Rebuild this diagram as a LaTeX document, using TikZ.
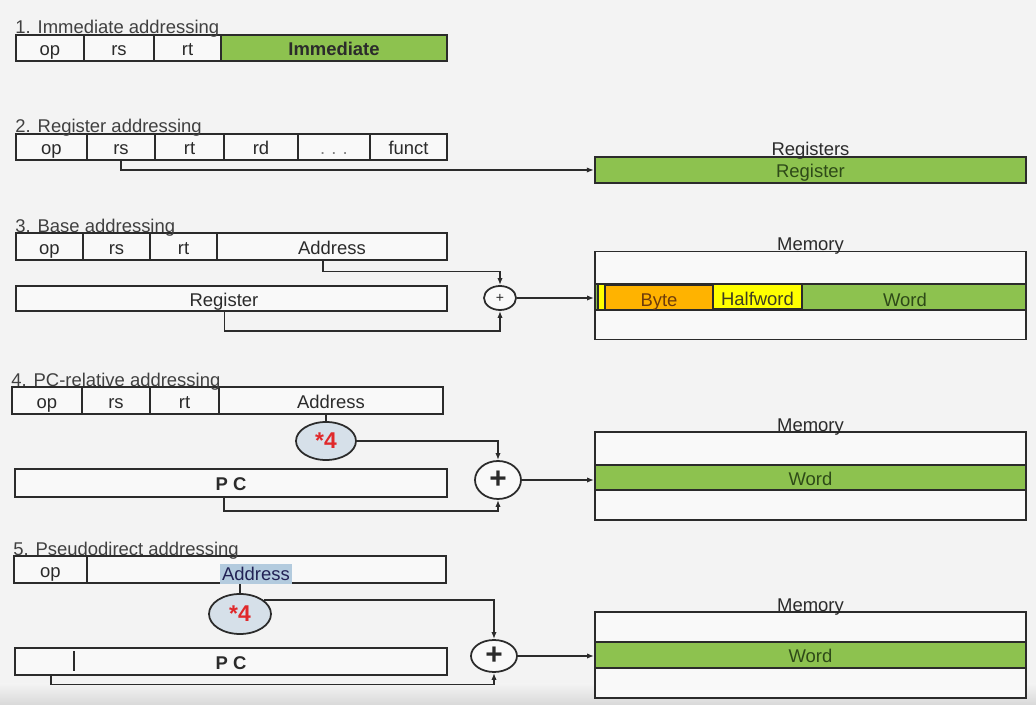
\documentclass[tikz,border=0pt]{standalone}
\usepackage{fontspec}
\setmainfont{Liberation Sans}
\usetikzlibrary{calc,arrows.meta,shapes.geometric}
\definecolor{pagebg}{HTML}{F3F3F3}
\definecolor{cellbg}{HTML}{F9F9F9}
\definecolor{leaf}{HTML}{8DC24F}
\definecolor{amber}{HTML}{FFB300}
\definecolor{lemon}{HTML}{FFFF00}
\definecolor{ink}{HTML}{2B2B2B}
\definecolor{deepgreen}{HTML}{2E4A18}
\definecolor{rust}{HTML}{6E3C0C}
\definecolor{mist}{HTML}{D6E0E9}
\definecolor{crimson}{HTML}{E0282A}
\definecolor{selblue}{HTML}{B3CBDE}
\newcommand{\lbl}{\fontsize{10.5}{12}\selectfont}
\tikzset{
  fld/.style={draw=ink,line width=1pt,fill=cellbg,inner sep=0pt,minimum height=0.53cm,text=ink,font=\lbl,text height=9pt,text depth=0pt},
  ttl/.style={anchor=base west,inner sep=0pt,text=ink!90,font=\lbl},
  memrow/.style={draw=ink,line width=1.2pt,fill=leaf,inner sep=0pt,minimum width=431*0.02cm,minimum height=0.52cm,text=deepgreen,font=\lbl,text height=9pt,text depth=0pt},
  membox/.style={draw=ink,line width=1pt,fill=cellbg,inner sep=0pt,minimum width=431*0.02cm},
  adder/.style={ellipse,draw=ink,line width=1pt,fill=cellbg,inner sep=0pt,text=ink},
  times4/.style={ellipse,draw=ink,line width=1pt,fill=mist,inner sep=0pt,text=crimson,font=\fontsize{13}{15}\selectfont\bfseries},
  conn/.style={draw=ink,line width=0.9pt},
  arr/.style={-{Latex[length=4pt,width=3pt]}}
}

\begin{document}
\begin{tikzpicture}[x=0.02cm,y=-0.02cm]
\fill[pagebg] (0,0) rectangle (1036,705);
\useasboundingbox (0,0) rectangle (1036,705);
\shade[top color=pagebg,bottom color=gray!30] (0,684) rectangle (1036,705);

% 1. immediate
\foreach \nm/\a/\b/\txt in {op1/16/84/op,rs1/84/154/rs,rt1/154/221/rt}
  \node[fld,minimum width={(\b-\a)*0.02cm}] (\nm) at ({(\a+\b)/2},48) {\txt};
\node[fld,fill=leaf,font=\lbl\bfseries,minimum width=226*0.02cm] (imm1) at (334,48) {Immediate};
\node[ttl] (t1) at (op1.north west) {1. Immediate addressing};

% 2. register
\foreach \nm/\a/\b/\txt in {op2/16/87/op,rs2/87/155/rs,rt2/155/224/rt,rd2/224/298/rd,dots2/298/370/{\textcolor{gray}{.\,\,.\,\,.}},fn2/370/447/funct}
  \node[fld,minimum width={(\b-\a)*0.02cm}] (\nm) at ({(\a+\b)/2},147) {\txt};
\node[ttl] (t2) at (op2.north west) {2. Register addressing};
\node[memrow] (regs) at (810.5,170) {Register};
\node[anchor=base,inner sep=0pt,text=ink,font=\lbl] (regsl) at (regs.north) {Registers};
\draw[conn,arr] (rs2.south) |- (regs.west);

% 3. base
\foreach \nm/\a/\b/\txt in {op3/16/83/op,rs3/83/150/rs,rt3/150/217/rt,a3/217/447/Address}
  \node[fld,minimum width={(\b-\a)*0.02cm}] (\nm) at ({(\a+\b)/2},246.5) {\txt};
\node[ttl] (t3) at (op3.north west) {3. Base addressing};
\node[fld,minimum width=431*0.02cm,minimum height=0.5cm] (reg3) at (231.5,298.5) {\hspace*{-0.3cm}Register};
\node[adder,minimum width=0.64cm,minimum height=0.48cm,font=\fontsize{8}{9}\selectfont] (add3) at (500,298) {+};
\node[membox,minimum height=88*0.02cm] (mem3) at (810.5,295.5) {};
\node[memrow] (w3) at (810.5,297) {};
\node[draw=ink,line width=0.8pt,fill=lemon,inner sep=0pt,minimum width=7*0.02cm,minimum height=0.5cm] (strip3) at (601.5,297) {};
\node[draw=ink,line width=0.8pt,fill=amber,inner sep=0pt,minimum width=108*0.02cm,minimum height=0.5cm,text=rust,font=\lbl,text height=10pt,text depth=0pt] (byte3) at (659,297.5) {Byte};
\node[draw=ink,line width=0.8pt,fill=lemon,inner sep=0pt,minimum width=89*0.02cm,minimum height=0.48cm,text=ink!80!olive,font=\lbl,text height=10pt,text depth=0pt] (half3) at (757.5,296.5) {Halfword};
\node[inner sep=0pt,text=deepgreen,font=\lbl] (wl3) at (905,300) {Word};
\node[anchor=base,inner sep=0pt,text=ink,font=\lbl] (mem3l) at (mem3.north) {Memory};
\draw[conn,arr] ([xshift=-0.18cm]a3.south) -- ++(0,11) -| (add3.north);
\draw[conn,arr] ([xshift=-0.14cm]reg3.south) -- ++(0,19) -| (add3.south);
\draw[conn,arr] (add3.east) -- (add3.east -| mem3.west);

% 4. pc-relative
\foreach \nm/\a/\b/\txt in {op4/12/82/op,rs4/82/150/rs,rt4/150/219/rt,a4/219/443/Address}
  \node[fld,minimum width={(\b-\a)*0.02cm}] (\nm) at ({(\a+\b)/2},400.5) {\txt};
\node[ttl] (t4) at (op4.north west) {4. PC-relative addressing};
\node[times4,minimum width=1.2cm,minimum height=0.76cm] (mul4) at (326,441) {*4};
\node[fld,minimum width=432*0.02cm,minimum height=0.56cm,font=\lbl\bfseries] (pc4) at (231,483) {P C};
\node[adder,minimum width=0.92cm,minimum height=0.76cm,font=\fontsize{17}{18}\selectfont\bfseries] (add4) at (498,480) {+};
\node[membox,minimum height=88*0.02cm] (mem4) at (810.5,476) {};
\node[memrow,minimum height=0.5cm] (w4) at (810.5,477.5) {Word};
\node[anchor=base,inner sep=0pt,text=ink,font=\lbl] (mem4l) at (mem4.north) {Memory};
\draw[conn] (mul4.north) -- (mul4.north |- a4.south);
\draw[conn,arr] (mul4.east) -| (add4.north);
\draw[conn,arr] ([xshift=-0.14cm]pc4.south) -- ++(0,13) -| (add4.south);
\draw[conn,arr] (add4.east) -- (add4.east -| mem4.west);

% 5. pseudodirect
\node[fld,minimum width=73*0.02cm] (op5) at (50.5,569.5) {op};
\node[fld,minimum width=359*0.02cm] (a5) at (266.5,569.5) {};
\node[inner sep=1pt,fill=selblue,text=ink!80!blue,font=\lbl,text height=8pt,text depth=1pt] (a5l) at (256,574) {Address};
\node[ttl] (t5) at (op5.north west) {5. Pseudodirect addressing};
\node[times4,minimum width=1.24cm,minimum height=0.8cm] (mul5) at (240,614) {*4};
\node[fld,minimum width=432*0.02cm,font=\lbl\bfseries] (pc5) at (231,661.5) {P C};
\node[adder,minimum width=0.92cm,minimum height=0.64cm,font=\fontsize{17}{18}\selectfont\bfseries] (add5) at (494,656) {+};
\node[membox,minimum height=86*0.02cm] (mem5) at (810.5,655) {};
\node[memrow] (w5) at (810.5,655) {Word};
\node[anchor=base,inner sep=0pt,text=ink,font=\lbl] (mem5l) at (mem5.north) {Memory};
\draw[conn] ($(pc5.north west)+(60,4)$) -- ($(pc5.south west)+(60,-5)$);
\draw[conn] (mul5.north) -- (mul5.north |- a5.south);
\draw[conn,arr] (mul5.30) -| (add5.north);
\draw[conn,arr] ($(pc5.south west)+(37,0)$) -- ++(0,9) -| (add5.south);
\draw[conn,arr] (add5.east) -- (add5.east -| mem5.west);
\end{tikzpicture}
\end{document}
